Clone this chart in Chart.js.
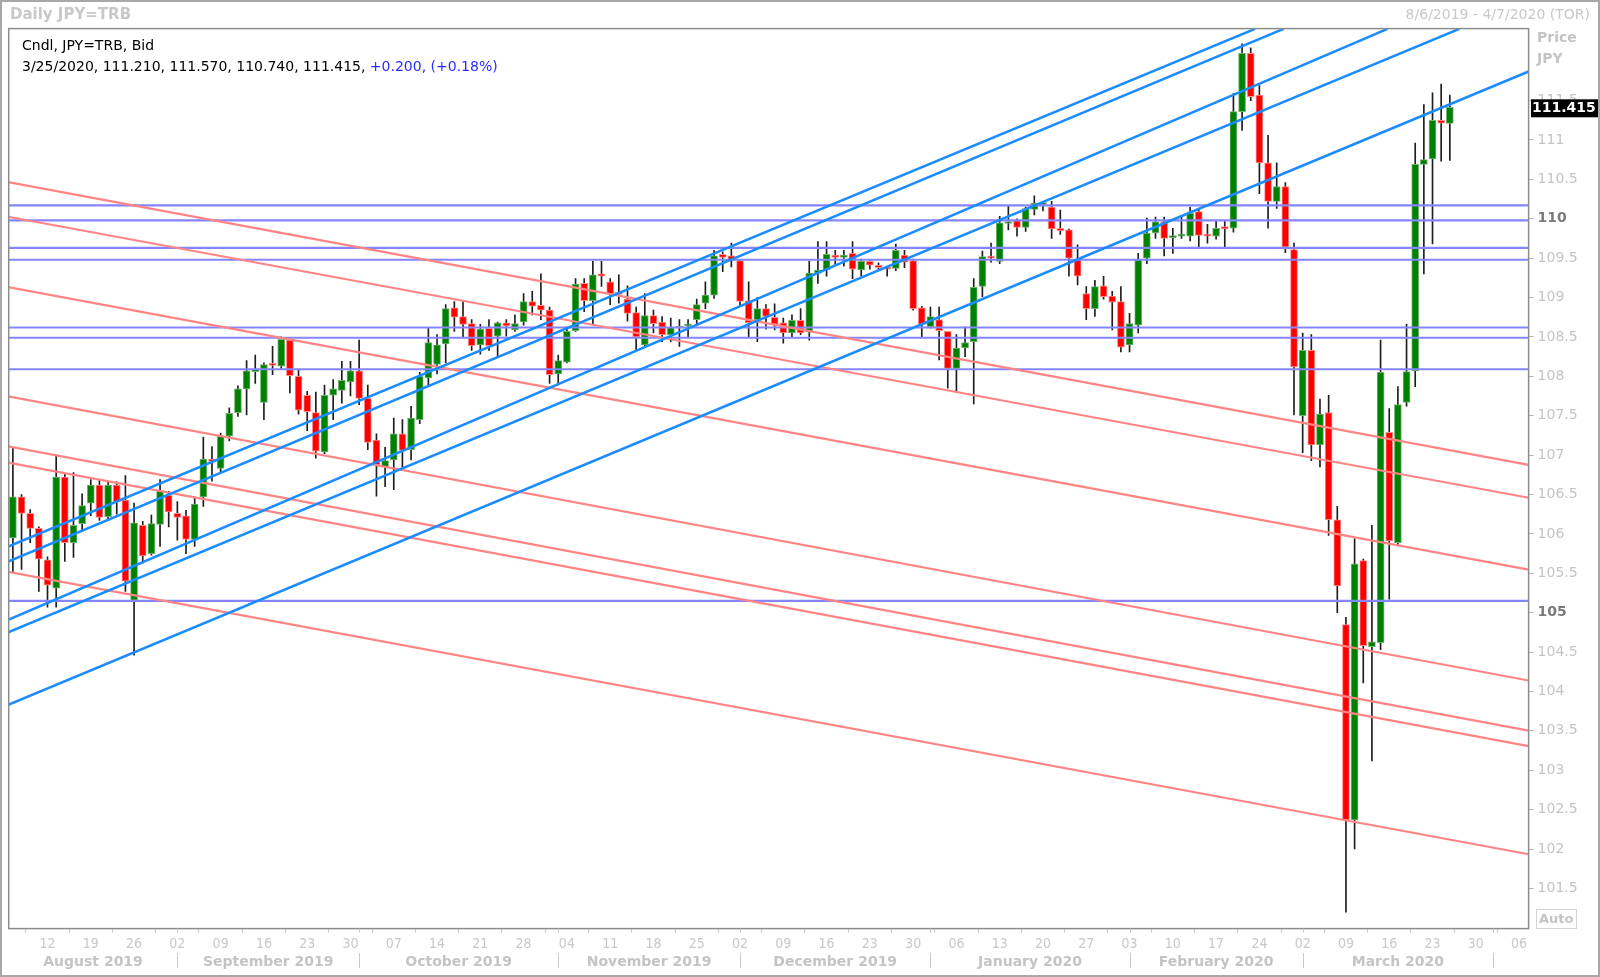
<!DOCTYPE html>
<html>
<head>
<meta charset="utf-8">
<title>Daily JPY=TRB</title>
<script src="https://cdn.jsdelivr.net/npm/chart.js@4.4.1/dist/chart.umd.min.js"></script>
<style>
    html, body { margin: 0; padding: 0; background: #fff; }
    canvas { display: block; }
</style>
</head>
<body>
<canvas id="grafica" width="1600" height="977"></canvas>
<script>
// candles are on consecutive weekday slots, slot 1 = Tue 6 Aug 2019
const firstSlot = 1;

const opens = [
    105.95, 106.47, 106.26, 106.07, 105.67, 105.31, 106.72, 105.89, 106.13, 106.39,
    106.62, 106.22, 106.62, 106.43, 105.16, 106.11, 105.75, 106.12, 106.49, 106.26,
    106.23, 105.93, 106.47, 106.95, 106.83, 107.24, 107.54, 107.84, 108.06, 107.67,
    108.15, 108.13, 108.46, 108.00, 107.76, 107.54, 107.04, 107.76, 107.82, 107.93,
    108.07, 107.72, 107.19, 106.85, 106.94, 107.27, 107.07, 107.45, 107.98, 108.15,
    108.41, 108.87, 108.76, 108.67, 108.40, 108.61, 108.51, 108.68, 108.59, 108.69,
    108.95, 108.90, 108.84, 108.03, 108.18, 108.58, 109.18, 108.96, 109.30, 109.20,
    109.06, 108.98, 108.81, 108.40, 108.77, 108.69, 108.53, 108.61, 108.64, 108.72,
    108.93, 109.03, 109.55, 109.53, 109.47, 108.96, 108.72, 108.86, 108.75, 108.68,
    108.55, 108.71, 108.56, 109.31, 109.35, 109.54, 109.51, 109.56, 109.35, 109.46,
    109.41, 109.38, 109.37, 109.54, 109.47, 108.87, 108.63, 108.72, 108.57, 108.10,
    108.36, 108.44, 109.14, 109.52, 109.46, 109.94, 109.98, 109.89, 110.12, 110.18,
    110.15, 109.88, 109.86, 109.48, 109.05, 108.86, 109.15, 109.02, 108.95, 108.40,
    108.65, 109.50, 109.82, 109.96, 109.76, 109.78, 109.78, 110.09, 109.80, 109.78,
    109.90, 109.88, 111.36, 112.10, 111.57, 110.71, 110.22, 110.41, 109.61, 107.50,
    108.33, 107.13, 107.54, 106.18, 104.85, 102.37, 105.66, 104.57, 104.62, 107.29,
    105.89, 107.67, 108.07, 110.69, 110.76, 111.25, 111.21
];
const highs = [
    107.09, 106.50, 106.31, 106.09, 105.71, 106.99, 106.77, 106.78, 106.51, 106.69,
    106.68, 106.66, 106.66, 106.74, 106.39, 106.16, 106.24, 106.69, 106.54, 106.41,
    106.30, 106.47, 107.23, 107.11, 107.28, 107.60, 107.88, 108.20, 108.27, 108.17,
    108.38, 108.50, 108.48, 108.08, 107.81, 107.80, 107.89, 107.96, 108.19, 108.19,
    108.46, 107.89, 107.27, 107.10, 107.47, 107.45, 107.62, 108.05, 108.62, 108.53,
    108.91, 108.95, 108.95, 108.72, 108.66, 108.72, 108.69, 108.72, 108.78, 109.05,
    109.08, 109.30, 108.88, 108.27, 108.63, 109.24, 109.24, 109.46, 109.46, 109.24,
    109.29, 109.15, 108.88, 109.05, 108.84, 108.76, 108.74, 108.72, 108.72, 108.98,
    109.20, 109.60, 109.58, 109.69, 109.48, 109.20, 109.00, 108.91, 108.92, 108.74,
    108.78, 108.86, 109.46, 109.71, 109.71, 109.60, 109.60, 109.71, 109.49, 109.48,
    109.44, 109.39, 109.68, 109.60, 109.49, 108.89, 108.88, 108.88, 108.57, 108.53,
    108.63, 109.24, 109.59, 109.69, 110.03, 110.16, 110.00, 110.15, 110.29, 110.22,
    110.22, 110.11, 109.87, 109.67, 109.14, 109.22, 109.27, 109.08, 109.14, 108.80,
    109.56, 110.01, 110.02, 110.02, 109.88, 110.03, 110.15, 110.11, 109.93, 109.97,
    109.97, 111.59, 112.22, 112.17, 111.69, 111.06, 110.71, 110.46, 109.69, 108.55,
    108.53, 107.71, 107.76, 106.35, 104.94, 105.94, 105.68, 106.11, 108.46, 107.59,
    107.87, 108.66, 110.96, 111.45, 111.60, 111.71, 111.57
];
const lows = [
    105.52, 105.55, 105.89, 105.27, 105.07, 105.07, 105.65, 105.70, 106.05, 106.23,
    106.17, 106.19, 106.25, 105.27, 104.46, 105.63, 105.73, 105.84, 106.09, 105.92,
    105.75, 105.84, 106.35, 106.67, 106.78, 107.18, 107.49, 107.51, 107.91, 107.45,
    108.02, 108.10, 107.79, 107.52, 107.31, 106.96, 107.02, 107.45, 107.66, 107.75,
    107.64, 107.07, 106.48, 106.60, 106.56, 106.83, 106.94, 107.40, 107.87, 108.03,
    108.17, 108.57, 108.50, 108.33, 108.28, 108.33, 108.25, 108.51, 108.57, 108.65,
    108.78, 108.72, 107.91, 107.89, 108.17, 108.57, 108.82, 108.67, 109.14, 108.91,
    108.93, 108.70, 108.33, 108.38, 108.55, 108.44, 108.44, 108.38, 108.50, 108.67,
    108.86, 108.99, 109.33, 109.39, 108.90, 108.50, 108.44, 108.60, 108.59, 108.42,
    108.50, 108.53, 108.46, 109.18, 109.27, 109.41, 109.40, 109.24, 109.27, 109.36,
    109.34, 109.27, 109.34, 109.38, 108.84, 108.50, 108.61, 108.21, 107.85, 107.81,
    108.25, 107.65, 109.01, 109.45, 109.43, 109.86, 109.78, 109.84, 110.05, 110.10,
    109.75, 109.80, 109.27, 109.16, 108.72, 108.76, 108.98, 108.59, 108.31, 108.31,
    108.55, 109.43, 109.75, 109.53, 109.56, 109.75, 109.72, 109.62, 109.69, 109.74,
    109.64, 109.83, 111.12, 111.50, 110.32, 109.88, 110.13, 109.57, 107.51, 107.03,
    106.93, 106.85, 105.98, 105.00, 101.20, 102.00, 104.11, 103.12, 104.53, 105.17,
    105.85, 107.62, 107.87, 109.30, 109.68, 110.73, 110.74
];
const closes = [
    106.47, 106.26, 106.07, 105.68, 105.35, 106.72, 105.89, 106.11, 106.36, 106.62,
    106.21, 106.62, 106.41, 105.40, 106.14, 105.72, 106.13, 106.54, 106.28, 106.21,
    105.93, 106.38, 106.95, 106.92, 107.24, 107.53, 107.84, 108.07, 108.09, 108.15,
    108.14, 108.47, 108.01, 107.57, 107.55, 107.05, 107.76, 107.84, 107.95, 108.07,
    107.72, 107.16, 106.88, 106.93, 107.27, 107.06, 107.47, 108.00, 108.43, 108.40,
    108.86, 108.75, 108.66, 108.39, 108.60, 108.39, 108.68, 108.64, 108.67, 108.95,
    108.89, 108.84, 108.02, 108.20, 108.57, 109.17, 108.96, 109.29, 109.27, 109.05,
    109.04, 108.80, 108.50, 108.77, 108.67, 108.53, 108.62, 108.63, 108.65, 108.91,
    109.03, 109.53, 109.51, 109.47, 108.95, 108.68, 108.86, 108.76, 108.66, 108.55,
    108.71, 108.55, 109.31, 109.35, 109.55, 109.51, 109.54, 109.36, 109.46, 109.41,
    109.38, 109.36, 109.60, 109.45, 108.86, 108.66, 108.76, 108.58, 108.10, 108.36,
    108.43, 109.13, 109.52, 109.50, 109.95, 109.96, 109.89, 110.13, 110.20, 110.20,
    109.87, 109.85, 109.50, 109.27, 108.86, 109.14, 109.01, 108.94, 108.37, 108.67,
    109.48, 109.82, 109.96, 109.75, 109.78, 109.80, 110.07, 109.79, 109.78, 109.88,
    109.87, 111.36, 112.10, 111.55, 110.71, 110.22, 110.41, 109.64, 108.12, 108.33,
    107.13, 107.52, 106.18, 105.34, 102.37, 105.62, 104.58, 104.63, 108.05, 105.91,
    107.64, 108.06, 110.69, 110.75, 111.25, 111.215, 111.415
];

// Monday slots and their day labels
const weekSlots = [5, 10, 15, 20, 25, 30, 35, 40, 45, 50, 55, 60, 65, 70, 75, 80, 85, 90,
    95, 100, 105, 110, 115, 120, 125, 130, 135, 140, 145, 150, 155, 160, 165, 170, 175];
const weekLabels = ['12', '19', '26', '02', '09', '16', '23', '30', '07', '14', '21', '28',
    '04', '11', '18', '25', '02', '09', '16', '23', '30', '06', '13', '20', '27',
    '03', '10', '17', '24', '02', '09', '16', '23', '30', '06'];
const monthStarts = [20, 41, 64, 85, 107, 130, 150, 172];
const monthNames = ['August 2019', 'September 2019', 'October 2019', 'November 2019',
    'December 2019', 'January 2020', 'February 2020', 'March 2020'];

const priceTicks = [101.5, 102, 102.5, 103, 103.5, 104, 104.5, 105, 105.5, 106, 106.5,
    107, 107.5, 108, 108.5, 109, 109.5, 110, 110.5, 111, 111.5];
const boldTicks = [105, 110];

// drawn lines: [slot1, price1, slot2, price2]
const blueLines = [
    [0.455, 105.84, 144.5, 112.41],
    [0.455, 105.65, 147.8, 112.41],
    [0.455, 104.91, 159.8, 112.41],
    [0.455, 104.75, 168.1, 112.41],
    [0.455, 103.83, 176.1, 111.87]
];
const pinkLines = [
    [0.455, 110.466, 176.1, 106.876],
    [0.455, 110.026, 176.1, 106.459],
    [0.455, 109.132, 176.1, 105.547],
    [0.455, 107.746, 176.1, 104.139],
    [0.455, 107.111, 176.1, 103.503],
    [0.455, 106.904, 176.1, 103.306],
    [0.455, 105.518, 176.1, 101.934]
];
const levelLines = [110.17, 109.98, 109.63, 109.48, 108.62, 108.49, 108.09, 105.15];

const headerLine1 = 'Cndl, JPY=TRB, Bid';
const headerDate = '3/25/2020';
const headerChange = '+0.200, (+0.18%)';

const xMin = 0.517, xMax = 176.1;
const yMin = 100.99, yMax = 112.414;

const slots = opens.map((o, k) => firstSlot + k);
const isUp = k => closes[k] >= opens[k];
const isBold = c => !!(c && c.tick && boldTicks.includes(c.tick.value));

const datasets = [];
blueLines.forEach(l => datasets.push({
    type: 'line', data: [{x: l[0], y: l[1]}, {x: l[2], y: l[3]}],
    borderColor: '#1a8cff', borderWidth: 2.6, pointRadius: 0, order: 0
}));
pinkLines.forEach(l => datasets.push({
    type: 'line', data: [{x: l[0], y: l[1]}, {x: l[2], y: l[3]}],
    borderColor: '#ff8585', borderWidth: 2.2, pointRadius: 0, order: 0
}));
levelLines.forEach(v => datasets.push({
    type: 'line', data: [{x: xMin, y: v}, {x: xMax, y: v}],
    borderColor: '#8585ff', borderWidth: 2.2, pointRadius: 0, order: 0
}));
datasets.push({
    type: 'bar',
    data: slots.map((s, k) => ({x: s, y: [opens[k], closes[k]]})),
    backgroundColor: c => isUp(c.dataIndex) ? '#008000' : '#ff0000',
    borderColor: c => isUp(c.dataIndex) ? '#6fb36f' : '#ff8a8a',
    borderWidth: 1, borderSkipped: false,
    barThickness: 7, minBarLength: 2, grouped: false, order: 1
});
datasets.push({
    type: 'bar',
    data: slots.map((s, k) => ({x: s, y: [lows[k], highs[k]]})),
    backgroundColor: '#1e1e1e', borderWidth: 0,
    barThickness: 1, grouped: false, order: 2
});

const decor = {
    id: 'decor',
    afterDraw(chart) {
        const {ctx, chartArea: a, scales: {x, y}} = chart;
        ctx.save();

        // outer frame and plot frame
        ctx.strokeStyle = '#a8a8a8';
        ctx.lineWidth = 2;
        ctx.strokeRect(1, 1, 1598, 975);
        ctx.strokeStyle = '#8c8c8c';
        ctx.lineWidth = 1.5;
        ctx.strokeRect(a.left, a.top, a.right - a.left, a.bottom - a.top);

        // header
        ctx.textBaseline = 'middle';
        ctx.fillStyle = '#c8c8c8';
        ctx.font = 'bold 15px "DejaVu Sans"';
        ctx.textAlign = 'left';
        ctx.fillText('Daily JPY=TRB', 10, 15);
        ctx.font = '14px "DejaVu Sans"';
        ctx.textAlign = 'right';
        ctx.fillText('8/6/2019 - 4/7/2020 (TOR)', 1590, 15);

        // legend text
        ctx.textAlign = 'left';
        ctx.fillStyle = '#000';
        ctx.font = '14px "DejaVu Sans"';
        ctx.fillText(headerLine1, 22, 46);
        const n = opens.length - 1;
        const part1 = [headerDate, opens[n], highs[n], lows[n], closes[n]]
            .map(v => typeof v === 'number' ? v.toFixed(3) : v).join(', ') + ', ';
        ctx.fillText(part1, 22, 67);
        ctx.fillStyle = '#2b2bff';
        ctx.fillText(headerChange, 22 + ctx.measureText(part1).width, 67);

        // axis captions
        ctx.fillStyle = '#c4c4c4';
        ctx.font = 'bold 14px "DejaVu Sans"';
        ctx.fillText('Price', 1537, 38);
        ctx.fillText('JPY', 1537, 59);

        // last price box
        const py = y.getPixelForValue(closes[n]);
        ctx.fillStyle = '#000';
        ctx.fillRect(1531, py - 8, 67, 18);
        ctx.fillStyle = '#fff';
        ctx.font = 'bold 14px "DejaVu Sans"';
        ctx.fillText(closes[n].toFixed(3), 1532, py + 1);

        // Auto button
        ctx.strokeStyle = '#d4d4d4';
        ctx.lineWidth = 1;
        ctx.strokeRect(1536.5, 909.5, 40, 19);
        ctx.fillStyle = '#c4c4c4';
        ctx.font = 'bold 13px "DejaVu Sans"';
        ctx.fillText('Auto', 1539, 920);

        // month separators and names
        ctx.strokeStyle = '#c8c8c8';
        ctx.lineWidth = 1;
        monthStarts.forEach(s => {
            const px = Math.round(x.getPixelForValue(s)) + 0.5;
            if (px > a.right + 1) return;
            ctx.beginPath();
            ctx.moveTo(px, a.bottom);
            ctx.lineTo(px, a.bottom + 4);
            ctx.moveTo(px, 953);
            ctx.lineTo(px, 968);
            ctx.stroke();
        });
        ctx.fillStyle = '#c4c4c4';
        ctx.font = 'bold 14px "DejaVu Sans"';
        ctx.textAlign = 'center';
        monthNames.forEach((name, k) => {
            const l = x.getPixelForValue(k === 0 ? xMin : monthStarts[k - 1]);
            const r = x.getPixelForValue(monthStarts[k]);
            ctx.fillText(name, (l + r) / 2, 962);
        });
        ctx.restore();
    }
};

new Chart(document.getElementById('grafica').getContext('2d'), {
    type: 'bar',
    data: {datasets},
    options: {
        responsive: false,
        animation: false,
        devicePixelRatio: 1,
        layout: {padding: {left: 8.7, top: 28.6, right: 0, bottom: 0}},
        plugins: {legend: {display: false}, tooltip: {enabled: false}},
        scales: {
            x: {
                type: 'linear', min: xMin, max: xMax, offset: false,
                afterFit: s => { s.height = 977 - 928.6; },
                afterBuildTicks: s => { s.ticks = weekSlots.map(v => ({value: v})); },
                grid: {drawOnChartArea: false, tickLength: 4, color: '#c8c8c8'},
                border: {display: false},
                ticks: {
                    autoSkip: false, maxRotation: 0, padding: 3,
                    color: '#c8c8c8',
                    font: {family: '"DejaVu Sans Condensed", "DejaVu Sans"', size: 14},
                    callback: (v, i) => weekLabels[i]
                }
            },
            y: {
                type: 'linear', position: 'right', min: yMin, max: yMax,
                afterFit: s => { s.width = 1600 - 1528.6; },
                afterBuildTicks: s => { s.ticks = priceTicks.map(v => ({value: v})); },
                grid: {drawOnChartArea: false, tickLength: 5, color: '#b8b8b8'},
                border: {display: false},
                ticks: {
                    padding: 4,
                    color: c => isBold(c) ? '#7a7a7a' : '#c4c4c4',
                    font: c => ({family: '"DejaVu Sans"', size: 14,
                        weight: isBold(c) ? 'bold' : 'normal'}),
                    callback: v => (v % 1 === 0 ? v.toFixed(0) : v.toFixed(1))
                }
            }
        }
    },
    plugins: [decor]
});
</script>
</body>
</html>
